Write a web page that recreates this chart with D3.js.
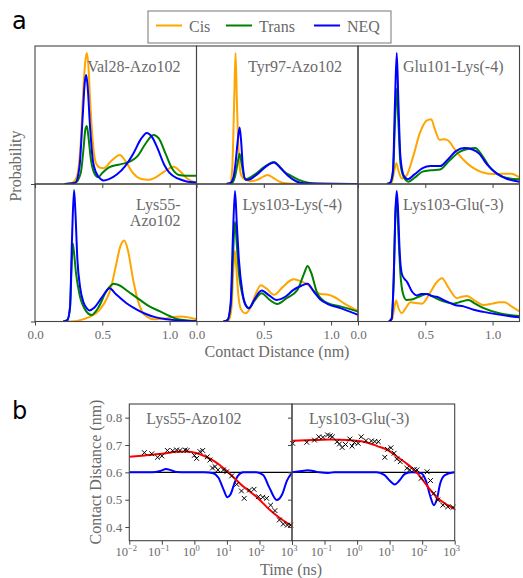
<!DOCTYPE html>
<html><head><meta charset="utf-8">
<script src="https://cdn.jsdelivr.net/npm/d3@7"></script>
<style>body{margin:0;background:#fff}svg{display:block}</style>
</head><body><svg id="c" width="523" height="578"></svg>
<script>
// ---------------- DATA ----------------
const seriesNames = ["Cis", "Trans", "NEQ"];
const pairNames = ["Val28-Azo102", "Tyr97-Azo102", "Glu101-Lys(-4)", "Lys55-\nAzo102", "Lys103-Lys(-4)", "Lys103-Glu(-3)"];
const distanceTicks = [0.0, 0.5, 1.0];

// [contact distance (nm), probability (a.u.)]
const val28Cis = [[0.25,0],[0.28,0.01],[0.31,0.05],[0.34,0.3],[0.36,0.7],[0.375,0.9],[0.385,0.95],[0.395,0.88],[0.41,0.6],[0.43,0.3],[0.45,0.16],[0.48,0.12],[0.51,0.115],[0.57,0.17],[0.63,0.21],[0.67,0.17],[0.72,0.09],[0.78,0.04],[0.84,0.03],[0.9,0.05],[0.96,0.09],[1.03,0.125],[1.08,0.09],[1.13,0.04],[1.2,0.01]];
const val28Trans = [[0.22,0],[0.3,0.01],[0.34,0.08],[0.36,0.25],[0.375,0.4],[0.385,0.42],[0.395,0.36],[0.415,0.18],[0.44,0.08],[0.47,0.05],[0.5,0.08],[0.55,0.12],[0.62,0.14],[0.7,0.16],[0.76,0.2],[0.82,0.29],[0.88,0.355],[0.92,0.33],[0.97,0.22],[1.02,0.11],[1.07,0.065],[1.12,0.06],[1.2,0.06]];
const val28NEQ = [[0.22,0],[0.3,0.01],[0.33,0.12],[0.355,0.5],[0.37,0.74],[0.38,0.79],[0.39,0.72],[0.41,0.4],[0.43,0.17],[0.455,0.08],[0.49,0.035],[0.51,0.025],[0.55,0.035],[0.61,0.07],[0.67,0.13],[0.73,0.22],[0.79,0.33],[0.83,0.37],[0.87,0.34],[0.91,0.26],[0.96,0.14],[1.0,0.08],[1.06,0.04],[1.12,0.02],[1.2,0.01]];

const tyr97Cis = [[0.22,0],[0.25,0.005],[0.265,0.1],[0.28,0.6],[0.29,0.95],[0.3,0.6],[0.315,0.2],[0.33,0.07],[0.35,0.04],[0.4,0.02],[0.45,0.03],[0.5,0.055],[0.53,0.065],[0.57,0.045],[0.62,0.015],[0.68,0.003],[0.75,0],[1.2,0]];
const tyr97Trans = [[0.22,0],[0.26,0.005],[0.285,0.05],[0.305,0.15],[0.32,0.22],[0.335,0.15],[0.355,0.05],[0.37,0.035],[0.42,0.06],[0.5,0.12],[0.576,0.16],[0.61,0.135],[0.65,0.09],[0.7,0.06],[0.76,0.03],[0.83,0.01],[0.9,0.002],[1.2,0]];
const tyr97NEQ = [[0.22,0],[0.25,0.005],[0.275,0.05],[0.29,0.15],[0.305,0.3],[0.32,0.41],[0.33,0.33],[0.345,0.12],[0.365,0.03],[0.4,0.035],[0.45,0.07],[0.52,0.13],[0.576,0.155],[0.62,0.12],[0.68,0.06],[0.74,0.02],[0.8,0.005],[1.2,0]];

const glu101Cis = [[0.215,0],[0.25,0.01],[0.27,0.1],[0.285,0.15],[0.3,0.1],[0.325,0.04],[0.36,0.06],[0.41,0.2],[0.46,0.37],[0.51,0.46],[0.544,0.47],[0.57,0.4],[0.606,0.32],[0.64,0.325],[0.67,0.315],[0.72,0.25],[0.785,0.174],[0.85,0.12],[0.91,0.09],[0.97,0.075],[1.03,0.072],[1.1,0.075],[1.14,0.075],[1.2,0.048]];
const glu101Trans = [[0.215,0],[0.24,0.01],[0.26,0.08],[0.275,0.45],[0.288,0.69],[0.3,0.45],[0.315,0.15],[0.34,0.05],[0.375,0.017],[0.42,0.045],[0.48,0.09],[0.54,0.1],[0.61,0.105],[0.68,0.17],[0.75,0.23],[0.82,0.255],[0.87,0.26],[0.92,0.21],[0.98,0.12],[1.04,0.07],[1.1,0.045],[1.2,0.034]];
const glu101NEQ = [[0.215,0],[0.24,0.01],[0.26,0.1],[0.275,0.6],[0.288,0.95],[0.3,0.6],[0.315,0.2],[0.34,0.06],[0.37,0.035],[0.42,0.07],[0.48,0.115],[0.54,0.13],[0.61,0.13],[0.67,0.18],[0.73,0.24],[0.79,0.26],[0.85,0.25],[0.9,0.22],[0.96,0.14],[1.03,0.077],[1.1,0.04],[1.2,0.017]];

const lys55Cis = [[0.21,0],[0.3,0.002],[0.36,0.017],[0.42,0.04],[0.48,0.085],[0.53,0.16],[0.56,0.23],[0.6,0.4],[0.635,0.55],[0.663,0.59],[0.69,0.52],[0.73,0.3],[0.765,0.15],[0.795,0.073],[0.84,0.03],[0.88,0.017],[0.96,0.02],[1.03,0.032],[1.08,0.036],[1.14,0.03],[1.2,0.017]];
const lys55Trans = [[0.21,0],[0.24,0.01],[0.26,0.1],[0.272,0.4],[0.28,0.57],[0.29,0.5],[0.305,0.35],[0.33,0.2],[0.37,0.09],[0.42,0.048],[0.47,0.1],[0.53,0.22],[0.584,0.274],[0.63,0.262],[0.69,0.22],[0.78,0.157],[0.85,0.11],[0.93,0.073],[1.0,0.04],[1.06,0.017],[1.2,0.003]];
const lys55NEQ = [[0.21,0],[0.24,0.01],[0.26,0.1],[0.275,0.6],[0.29,0.956],[0.3,0.8],[0.315,0.45],[0.335,0.25],[0.36,0.14],[0.39,0.09],[0.405,0.08],[0.44,0.1],[0.5,0.18],[0.554,0.242],[0.6,0.2],[0.68,0.133],[0.75,0.09],[0.81,0.06],[0.9,0.03],[0.98,0.017],[1.2,0.002]];

const lys103LysCis = [[0.2,0],[0.24,0.01],[0.26,0.1],[0.275,0.4],[0.285,0.513],[0.295,0.4],[0.31,0.2],[0.33,0.09],[0.365,0.06],[0.4,0.1],[0.44,0.2],[0.477,0.264],[0.52,0.24],[0.576,0.194],[0.64,0.25],[0.7,0.3],[0.725,0.307],[0.78,0.29],[0.825,0.27],[0.87,0.225],[0.924,0.2],[0.98,0.195],[1.02,0.18],[1.1,0.13],[1.2,0.077]];
const lys103LysTrans = [[0.2,0],[0.23,0.01],[0.255,0.12],[0.27,0.45],[0.286,0.726],[0.3,0.55],[0.315,0.35],[0.34,0.2],[0.365,0.12],[0.39,0.097],[0.43,0.15],[0.484,0.206],[0.54,0.16],[0.6,0.128],[0.67,0.17],[0.75,0.23],[0.8,0.35],[0.825,0.404],[0.85,0.36],[0.9,0.2],[0.975,0.133],[1.07,0.11],[1.2,0.073]];
const lys103LysNEQ = [[0.2,0],[0.23,0.01],[0.255,0.15],[0.27,0.6],[0.286,0.95],[0.3,0.7],[0.315,0.45],[0.34,0.22],[0.365,0.12],[0.39,0.097],[0.43,0.16],[0.484,0.225],[0.54,0.19],[0.596,0.157],[0.66,0.18],[0.72,0.23],[0.78,0.26],[0.825,0.274],[0.87,0.22],[0.92,0.16],[0.98,0.125],[1.07,0.097],[1.2,0.048]];

const lys103GluCis = [[0.23,0],[0.255,0.02],[0.27,0.1],[0.283,0.153],[0.3,0.1],[0.325,0.06],[0.35,0.09],[0.39,0.14],[0.43,0.135],[0.475,0.13],[0.53,0.2],[0.58,0.28],[0.624,0.315],[0.67,0.25],[0.735,0.17],[0.77,0.18],[0.81,0.186],[0.87,0.15],[0.934,0.12],[1.0,0.13],[1.05,0.14],[1.09,0.14],[1.14,0.11],[1.2,0.073]];
const lys103GluTrans = [[0.23,0],[0.25,0.02],[0.265,0.3],[0.278,0.78],[0.288,0.91],[0.3,0.65],[0.315,0.35],[0.335,0.2],[0.36,0.157],[0.4,0.16],[0.45,0.18],[0.51,0.2],[0.55,0.185],[0.6,0.16],[0.66,0.14],[0.71,0.13],[0.77,0.145],[0.82,0.157],[0.87,0.13],[0.934,0.097],[1.05,0.06],[1.2,0.04]];
const lys103GluNEQ = [[0.23,0],[0.25,0.02],[0.265,0.3],[0.278,0.8],[0.288,0.95],[0.298,0.8],[0.31,0.5],[0.325,0.35],[0.345,0.31],[0.363,0.29],[0.4,0.22],[0.437,0.19],[0.47,0.2],[0.51,0.2],[0.55,0.185],[0.586,0.18],[0.65,0.15],[0.72,0.12],[0.785,0.11],[0.86,0.085],[0.934,0.07],[1.05,0.05],[1.2,0.03]];

const panelSeries = [
  [val28Cis, val28Trans, val28NEQ],
  [tyr97Cis, tyr97Trans, tyr97NEQ],
  [glu101Cis, glu101Trans, glu101NEQ],
  [lys55Cis, lys55Trans, lys55NEQ],
  [lys103LysCis, lys103LysTrans, lys103LysNEQ],
  [lys103GluCis, lys103GluTrans, lys103GluNEQ]
];

// Panel b
const kineticNames = ["Lys55-Azo102", "Lys103-Glu(-3)"];
const timeTicks = [1e-2, 1e-1, 1e0, 1e1, 1e2, 1e3];
const timeTickExp = ["\u22122", "\u22121", "0", "1", "2", "3"];
const distTicksB = [0.4, 0.5, 0.6, 0.7, 0.8];
const referenceLevel = 0.6;

const lys55Time = [0.029,0.049,0.074,0.10,0.148,0.215,0.285,0.36,0.52,0.60,1.0,1.17,1.48,1.8,2.5,3.0,3.6,4.3,5.3,7.8,9.8,14,20,28,34,49,68,93,126,166,220,300,410,540,720,910];
const lys55Dist = [0.672,0.668,0.655,0.66,0.68,0.679,0.682,0.68,0.682,0.68,0.662,0.651,0.676,0.68,0.657,0.645,0.616,0.621,0.609,0.609,0.602,0.587,0.556,0.532,0.505,0.535,0.538,0.511,0.509,0.505,0.48,0.46,0.426,0.411,0.407,0.407];
const lys55Fit = [[0.01,0.657],[0.03,0.662],[0.1,0.668],[0.3,0.675],[0.6,0.676],[1.2,0.67],[3,0.65],[6,0.627],[12,0.596],[32,0.548],[80,0.511],[210,0.462],[430,0.432],[1000,0.404]];
const lys55Rate = [[0.01,0.6],[0.05,0.6],[0.09,0.605],[0.135,0.612],[0.2,0.607],[0.3,0.601],[0.5,0.6],[2,0.6],[3.5,0.598],[5.5,0.58],[8,0.535],[10.3,0.509],[13,0.52],[17,0.56],[22,0.588],[32,0.6],[80,0.6],[130,0.59],[200,0.545],[340,0.499],[500,0.52],[700,0.57],[1000,0.598]];

const glu3Time = [0.0105,0.0285,0.049,0.067,0.089,0.124,0.15,0.174,0.243,0.287,0.347,0.44,0.60,0.70,0.83,1.08,1.34,1.87,2.75,3.5,4.5,7.1,8.6,11,13.8,16.6,21.2,34,41.5,57.6,69,93,142,180,228,302,433,615,890];
const glu3Dist = [0.706,0.71,0.718,0.73,0.728,0.737,0.734,0.73,0.712,0.704,0.691,0.702,0.722,0.696,0.709,0.706,0.73,0.716,0.715,0.713,0.712,0.655,0.684,0.69,0.67,0.649,0.639,0.615,0.609,0.611,0.609,0.578,0.602,0.57,0.523,0.499,0.48,0.474,0.472];
const glu3Fit = [[0.01,0.715],[0.045,0.718],[0.15,0.72],[0.5,0.718],[1.6,0.712],[4.2,0.696],[8.5,0.682],[17,0.657],[35,0.63],[72,0.596],[148,0.548],[302,0.505],[615,0.48],[1000,0.466]];
const glu3Rate = [[0.01,0.6],[0.02,0.605],[0.03,0.608],[0.045,0.605],[0.07,0.6],[0.13,0.598],[0.2,0.6],[1,0.6],[4,0.6],[7,0.59],[10,0.57],[14.4,0.556],[20,0.57],[30,0.595],[50,0.6],[90,0.598],[130,0.57],[180,0.51],[230,0.48],[280,0.5],[360,0.56],[500,0.59],[1000,0.6]];

const kineticSets = [
  {time: lys55Time, dist: lys55Dist, fit: lys55Fit, rate: lys55Rate},
  {time: glu3Time, dist: glu3Dist, fit: glu3Fit, rate: glu3Rate}
];

// ---------------- STYLE ----------------
const serif = "'Liberation Serif','Times New Roman',serif";
const txt = "#6a6a6a";
const ax = "#444";
const seriesColors = ["orange", "green", "blue"];

const svg = d3.select("#c");
svg.append("rect").attr("width", 523).attr("height", 578).attr("fill", "#fff");

// ---------------- PANEL a ----------------
const colX = [35, 196.5, 358], colW = 161.5;
const rowY = [46, 184], rowH = [138, 137.5];
const defs = svg.append("defs");

pairNames.forEach((name, i) => {
  const c = i % 3, r = Math.floor(i / 3);
  const x = d3.scaleLinear().domain([0, 1.2]).range([colX[c], colX[c] + colW]);
  const y = d3.scaleLinear().domain([0, 1]).range([rowY[r] + rowH[r], rowY[r]]);
  const g = svg.append("g");
  const cid = "clipA" + i;
  defs.append("clipPath").attr("id", cid).append("rect")
    .attr("x", colX[c]).attr("y", rowY[r]).attr("width", colW).attr("height", rowH[r]);

  const line = d3.line().x(d => x(d[0])).y(d => y(d[1])).curve(d3.curveMonotoneX);
  panelSeries[i].forEach((s, k) => {
    g.append("path").attr("clip-path", `url(#${cid})`).attr("d", line(s))
      .attr("fill", "none").attr("stroke", seriesColors[k]).attr("stroke-width", 2)
      .attr("stroke-linejoin", "round");
  });

  const axis = d3.axisBottom(x).tickValues(distanceTicks).tickSize(4)
    .tickFormat(r === 1 ? d3.format(".1f") : "");
  const ag = g.append("g").attr("transform", `translate(0,${rowY[r] + rowH[r]})`).call(axis);
  ag.select(".domain").remove();
  ag.selectAll("line").attr("stroke", ax).attr("stroke-width", 1);
  ag.selectAll("text").attr("font-family", serif).attr("font-size", 13).attr("fill", txt).attr("dy", "0.8em");

  if (c === 0) {
    const ya = d3.axisLeft(y).tickValues([0]).tickSize(4).tickFormat("");
    const yg = g.append("g").attr("transform", `translate(${colX[c]},0)`).call(ya);
    yg.select(".domain").remove();
    yg.selectAll("line").attr("stroke", ax);
  }

  g.append("rect").attr("x", colX[c]).attr("y", rowY[r]).attr("width", colW).attr("height", rowH[r])
    .attr("fill", "none").attr("stroke", ax).attr("stroke-width", 1.1);

  const lines = name.split("\n");
  const t = g.append("text").attr("font-family", serif).attr("font-size", 16).attr("fill", txt)
    .attr("text-anchor", "end");
  lines.forEach((ln, j) => {
    t.append("tspan").attr("x", colX[c] + colW - 16).attr("y", rowY[r] + 26 + j * 16).text(ln);
  });
});

svg.append("text").attr("transform", "translate(21,166) rotate(-90)")
  .attr("text-anchor", "middle").attr("font-family", serif).attr("font-size", 16)
  .attr("fill", txt).text("Probability");
svg.append("text").attr("x", 277).attr("y", 357).attr("text-anchor", "middle")
  .attr("font-family", serif).attr("font-size", 16).attr("fill", txt).text("Contact Distance (nm)");

// legend
const lg = svg.append("g");
lg.append("rect").attr("x", 148).attr("y", 11).attr("width", 243).attr("height", 32)
  .attr("fill", "#fff").attr("stroke", "#777").attr("stroke-width", 1);
const legX = [156, 226, 314];
seriesNames.forEach((n, k) => {
  lg.append("line").attr("x1", legX[k]).attr("x2", legX[k] + 26).attr("y1", 25.5).attr("y2", 25.5)
    .attr("stroke", seriesColors[k]).attr("stroke-width", 2);
  lg.append("text").attr("x", legX[k] + 33).attr("y", 31.5).attr("font-family", serif)
    .attr("font-size", 16).attr("fill", txt).text(n);
});

svg.append("text").attr("x", 12).attr("y", 29).attr("font-family", "'DejaVu Sans',sans-serif")
  .attr("font-size", 24).attr("fill", "#000").text("a");
svg.append("text").attr("x", 12).attr("y", 419).attr("font-family", "'DejaVu Sans',sans-serif")
  .attr("font-size", 24).attr("fill", "#000").text("b");

// ---------------- PANEL b ----------------
const bX = [129.3, 292], bW = 162.7, bTop = 404, bH = 136.7;
const yb = d3.scaleLinear().domain([0.35, 0.85]).range([bTop + bH, bTop]);

kineticNames.forEach((name, i) => {
  const x = d3.scaleLog().domain([1e-2, 1e3]).range([bX[i], bX[i] + bW]);
  const g = svg.append("g");
  const cid = "clipB" + i;
  defs.append("clipPath").attr("id", cid).append("rect")
    .attr("x", bX[i]).attr("y", bTop).attr("width", bW).attr("height", bH);
  const set = kineticSets[i];
  const line = d3.line().x(d => x(d[0])).y(d => yb(d[1])).curve(d3.curveMonotoneX);

  g.append("line").attr("x1", x(1e-2)).attr("x2", x(1e3)).attr("y1", yb(referenceLevel)).attr("y2", yb(referenceLevel))
    .attr("stroke", "#000").attr("stroke-width", 1.2);
  g.append("path").attr("clip-path", `url(#${cid})`).attr("d", line(set.rate)).attr("fill", "none")
    .attr("stroke", "blue").attr("stroke-width", 2);
  g.append("path").attr("clip-path", `url(#${cid})`).attr("d", line(set.fit)).attr("fill", "none")
    .attr("stroke", "red").attr("stroke-width", 2);
  const ms = 2.4;
  set.time.forEach((t, j) => {
    const px = x(t), py = yb(set.dist[j]);
    g.append("path").attr("d", `M${px - ms},${py - ms}L${px + ms},${py + ms}M${px - ms},${py + ms}L${px + ms},${py - ms}`)
      .attr("stroke", "#000").attr("stroke-width", 1);
  });

  const xa = d3.axisBottom(x).tickValues(timeTicks).tickSize(4).tickFormat("");
  const xg = g.append("g").attr("transform", `translate(0,${bTop + bH})`).call(xa);
  xg.select(".domain").remove();
  xg.selectAll("line").attr("stroke", ax);
  timeTicks.forEach((t, j) => {
    if (i === 1 && j === 0) return;
    const tx = g.append("text").attr("x", x(t) - 3).attr("y", bTop + bH + 15.5)
      .attr("text-anchor", "middle").attr("font-family", serif).attr("font-size", 12.5).attr("fill", txt);
    tx.append("tspan").text("10");
    tx.append("tspan").attr("dy", -5.5).attr("font-size", 8.5).text(timeTickExp[j]);
  });

  const ya = d3.axisLeft(yb).tickValues(distTicksB).tickSize(4).tickFormat(i === 0 ? d3.format(".1f") : "");
  const yg = g.append("g").attr("transform", `translate(${bX[i]},0)`).call(ya);
  yg.select(".domain").remove();
  yg.selectAll("line").attr("stroke", ax);
  yg.selectAll("text").attr("font-family", serif).attr("font-size", 13).attr("fill", txt);

  g.append("rect").attr("x", bX[i]).attr("y", bTop).attr("width", bW).attr("height", bH)
    .attr("fill", "none").attr("stroke", ax).attr("stroke-width", 1.1);

  g.append("text").attr("x", bX[i] + 17).attr("y", bTop + 19.5).attr("font-family", serif)
    .attr("font-size", 16).attr("fill", txt).text(name);
});

svg.append("text").attr("transform", "translate(101,472) rotate(-90)").attr("text-anchor", "middle")
  .attr("font-family", serif).attr("font-size", 16).attr("fill", txt).text("Contact Distance (nm)");
svg.append("text").attr("x", 291).attr("y", 575).attr("text-anchor", "middle")
  .attr("font-family", serif).attr("font-size", 16).attr("fill", txt).text("Time (ns)");
</script></body></html>
